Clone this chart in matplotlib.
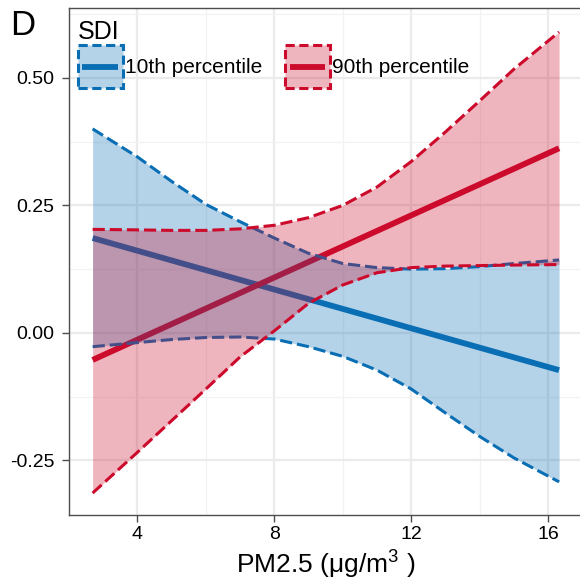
import numpy as np
import matplotlib
matplotlib.use("Agg")
import matplotlib.pyplot as plt
from matplotlib.patches import Patch
from matplotlib.lines import Line2D
from matplotlib.legend_handler import HandlerTuple, HandlerLine2D

plt.rcParams['font.family'] = ['Liberation Sans', 'DejaVu Sans']
plt.rcParams['mathtext.fontset'] = 'custom'
plt.rcParams['mathtext.rm'] = 'Liberation Sans'
plt.rcParams['mathtext.it'] = 'Liberation Sans:italic'

# ===== data =====
x_band = [2.69, 4, 5, 6, 7, 8, 9, 10, 11, 12, 13, 14, 15, 16.32]

p10_upper = [0.400, 0.345, 0.297, 0.252, 0.218, 0.186, 0.156, 0.136, 0.128, 0.125, 0.126, 0.130, 0.136, 0.143]
p10_lower = [-0.027, -0.019, -0.013, -0.009, -0.008, -0.012, -0.027, -0.046, -0.073, -0.110, -0.157, -0.203, -0.245, -0.292]
p90_upper = [0.203, 0.202, 0.201, 0.201, 0.204, 0.211, 0.226, 0.250, 0.286, 0.336, 0.394, 0.455, 0.517, 0.590]
p90_lower = [-0.314, -0.234, -0.172, -0.110, -0.047, 0.004, 0.058, 0.094, 0.118, 0.128, 0.131, 0.132, 0.133, 0.134]

x_line = [2.69, 16.32]
p10_fit = [0.186, -0.073]
p90_fit = [-0.053, 0.362]

labels = ["10th percentile", "90th percentile"]
x_ticks = [4, 8, 12, 16]
y_ticks = [-0.25, 0.0, 0.25, 0.50]
y_ticklabels = ["-0.25", "0.00", "0.25", "0.50"]

blue = '#0A6EB4'
red = '#CC0A2B'
dash = (4, 1.6)


# legend line centred inside the key box
class CenterLine(HandlerLine2D):
    def create_artists(self, legend, orig_handle, xdescent, ydescent, width, height, fontsize, trans):
        arts = super().create_artists(legend, orig_handle, xdescent, ydescent, width, height, fontsize, trans)
        for a in arts:
            a.set_xdata([-xdescent + 0.1 * width, -xdescent + 0.9 * width])
            a.set_ydata([height / 2 - ydescent] * 2)
        return arts


# ===== figure =====
W, H = 580, 586
fig = plt.figure(figsize=(W / 100, H / 100), dpi=100)
ax = fig.add_axes([69 / W, 71 / H, (582 - 69) / W, (578 - 71) / H])

ax.set_xlim(2.015, 16.99)
ax.set_ylim(-0.357, 0.637)

# grid
ax.set_xticks(x_ticks)
ax.set_xticks([2, 6, 10, 14], minor=True)
ax.set_yticks(y_ticks)
ax.set_yticklabels(y_ticklabels)
ax.set_yticks([-0.125, 0.125, 0.375, 0.625], minor=True)
ax.grid(True, which='major', color='#EBEBEB', lw=1.6)
ax.grid(True, which='minor', color='#F2F2F2', lw=0.9)
ax.set_axisbelow(True)

# lines first, ribbons over them
ax.plot(x_line, p10_fit, color=blue, lw=4.2, solid_capstyle='butt', zorder=2)
ax.plot(x_line, p90_fit, color=red, lw=4.2, solid_capstyle='butt', zorder=2)

ax.fill_between(x_band, p10_lower, p10_upper, color=blue, alpha=0.3, lw=0, zorder=3)
ax.plot(x_band, p10_upper, color=blue, lw=2.2, dashes=dash, zorder=4)
ax.plot(x_band, p10_lower, color=blue, lw=2.2, dashes=dash, zorder=4)

ax.fill_between(x_band, p90_lower, p90_upper, color=red, alpha=0.3, lw=0, zorder=5)
ax.plot(x_band, p90_upper, color=red, lw=2.2, dashes=dash, zorder=6)
ax.plot(x_band, p90_lower, color=red, lw=2.2, dashes=dash, zorder=6)

# axes style
for s in ax.spines.values():
    s.set_color('#4d4d4d')
    s.set_linewidth(1.0)
ax.tick_params(which='major', length=5, width=1, color='#4d4d4d', labelsize=14)
ax.tick_params(axis='y', pad=5.5)
ax.tick_params(axis='x', pad=3)
ax.tick_params(which='minor', length=0)
ax.set_xlabel("PM2.5 (μg/m$^{3}$ )", fontsize=19, labelpad=4)

# legend
handles = []
for c in [blue, red]:
    box = Patch(facecolor=matplotlib.colors.to_rgba(c, 0.3), edgecolor=c, lw=2.2, linestyle=(0, (3, 1.5)))
    ln = Line2D([], [], color=c, lw=4.2, solid_capstyle='butt')
    handles.append((box, ln))
leg = fig.legend(handles, labels, ncol=2, loc='upper left', bbox_to_anchor=(78 / W, 1 - 20 / H),
                 frameon=False, fontsize=15, title="SDI", title_fontsize=18, alignment='left',
                 handler_map={tuple: HandlerTuple(ndivide=1, pad=0), Line2D: CenterLine()},
                 handlelength=2.15, handleheight=2.8, handletextpad=0.1, columnspacing=1.1,
                 labelspacing=0.05, borderpad=0, borderaxespad=0)

fig.text(10 / W, 1 - 35 / H, "D", fontsize=25, va='baseline')

fig.savefig("out.png", dpi=100)
